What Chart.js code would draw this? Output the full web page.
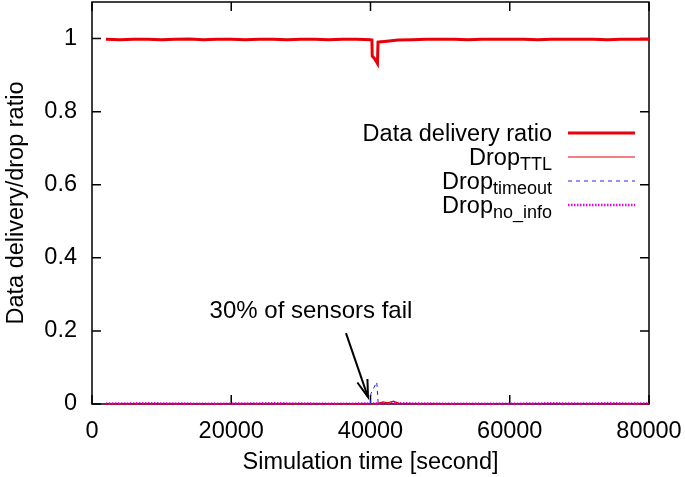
<!DOCTYPE html>
<html>
<head>
<meta charset="utf-8">
<script src="https://cdn.jsdelivr.net/npm/chart.js@4"></script>
<style>
  html, body { margin: 0; padding: 0; background: #fff; }
  #wrap { width: 685px; height: 477px; }
</style>
</head>
<body>
<div id="wrap"><canvas id="myChart" width="685" height="477"></canvas></div>
<script>
// Data
const deliveryTime = [2000, 4000, 6000, 8000, 10000, 12000, 14000, 16000, 18000, 20000,
  22000, 24000, 26000, 28000, 30000, 32000, 34000, 36000, 38000, 40000, 40200, 40250,
  40600, 41000, 41080, 41500, 42000, 43000, 44000, 46000, 48000, 50000, 52000, 54000,
  56000, 58000, 60000, 62000, 64000, 66000, 68000, 70000, 72000, 74000, 76000, 78000, 80000]
const deliveryRatio = [0.998, 0.997, 0.998, 0.998, 0.997, 0.998, 0.999, 0.997, 0.998, 0.998,
  0.997, 0.998, 0.998, 0.997, 0.998, 0.998, 0.997, 0.998, 0.998, 0.997, 0.996, 0.952,
  0.945, 0.932, 0.990, 0.991, 0.992, 0.994, 0.996, 0.997, 0.998, 0.998, 0.998, 0.997,
  0.998, 0.998, 0.998, 0.998, 0.997, 0.998, 0.998, 0.998, 0.998, 0.997, 0.998, 0.998, 0.998]

const ttlTime = [2000, 20000, 40000, 41000, 41800, 42500, 43300, 44200, 50000, 66000, 80000]
const ttlRatio = [0, 0, 0, 0.001, 0.006, 0.003, 0.008, 0.001, 0, 0.001, 0]

const timeoutTime = [2000, 10000, 20000, 30000, 38000, 40000, 40050, 40500, 40900, 41100,
  42000, 50000, 60000, 70000, 80000]
const timeoutRatio = [0.001, 0.001, 0, 0.001, 0.001, 0.002, 0.028, 0.045, 0.06, 0.003,
  0.001, 0.001, 0, 0.001, 0.001]

const noInfoTime = [2000, 8000, 14000, 20000, 26000, 32000, 38000, 44000, 50000, 56000,
  62000, 66000, 70000, 74000, 80000]
const noInfoRatio = [0.001, 0.002, 0.001, 0.001, 0.002, 0.001, 0.001, 0.002, 0.001,
  0.001, 0.001, 0.002, 0.001, 0.002, 0.001]

const xTicks = [0, 20000, 40000, 60000, 80000]
const yTicks = [0, 0.2, 0.4, 0.6, 0.8, 1]

// legend entries: main text, subscript
const legendItems = [
  ['Data delivery ratio', ''],
  ['Drop', 'TTL'],
  ['Drop', 'timeout'],
  ['Drop', 'no_info']
]

// annotation (data coords)
const noteText = '30% of sensors fail'
const notePos = [31450, 0.254]
const arrowFrom = [36480, 0.194]
const arrowTo = [39640, 0.019]

const FONT = 'Liberation Sans, Arial, Helvetica, sans-serif'
const FS = 23.5

function pts(xs, ys) {
  return xs.map((x, i) => ({ x: x, y: ys[i] }))
}

const styles = [
  { color: '#e8000b', width: 3, dash: [] },
  { color: '#e8000b', width: 1.2, dash: [] },
  { color: '#2222ee', width: 1, dash: [4, 4] },
  { color: '#ee00ee', width: 2.5, dash: [1.5, 1.5] }
]

// frame, inward tick marks, axis titles, legend and note
const decor = {
  id: 'decor',
  beforeDatasetsDraw(chart) {
    const c = chart.ctx
    const a = chart.chartArea
    const xs = chart.scales.x, ys = chart.scales.y
    c.save()
    c.strokeStyle = '#000'
    c.lineWidth = 1.5
    c.strokeRect(a.left, a.top, a.right - a.left, a.bottom - a.top)
    c.beginPath()
    xTicks.forEach(v => {
      const px = xs.getPixelForValue(v)
      c.moveTo(px, a.bottom); c.lineTo(px, a.bottom - 9)
      c.moveTo(px, a.top); c.lineTo(px, a.top + 9)
    })
    yTicks.forEach(v => {
      const py = ys.getPixelForValue(v)
      c.moveTo(a.left, py); c.lineTo(a.left + 9, py)
      c.moveTo(a.right, py); c.lineTo(a.right - 9, py)
    })
    c.stroke()
    c.restore()
  },
  afterDraw(chart) {
    const c = chart.ctx
    const a = chart.chartArea
    const xs = chart.scales.x, ys = chart.scales.y
    c.save()
    c.fillStyle = '#000'
    c.font = FS + 'px ' + FONT
    c.textAlign = 'center'
    c.textBaseline = 'middle'
    c.fillText('Simulation time [second]', (a.left + a.right) / 2, 463)
    c.save()
    c.translate(17, (a.top + a.bottom) / 2)
    c.rotate(-Math.PI / 2)
    c.fillText('Data delivery/drop ratio', 0, 0)
    c.restore()

    // legend
    const rowY = [133, 157, 181, 205]
    const textRight = 552
    legendItems.forEach((it, i) => {
      const y = rowY[i]
      c.textBaseline = 'alphabetic'
      c.textAlign = 'right'
      let right = textRight
      if (it[1]) {
        c.font = '18px ' + FONT
        c.fillText(it[1], right, y + 13)
        right -= c.measureText(it[1]).width
      }
      c.font = FS + 'px ' + FONT
      c.fillText(it[0], right, y + 8)
      const s = styles[i]
      c.strokeStyle = s.color
      c.lineWidth = s.width
      c.setLineDash(s.dash)
      c.beginPath()
      c.moveTo(568, y); c.lineTo(635, y)
      c.stroke()
      c.setLineDash([])
    })

    // note with arrow
    c.font = '24px ' + FONT
    c.textAlign = 'center'
    c.textBaseline = 'middle'
    c.fillText(noteText, xs.getPixelForValue(notePos[0]), ys.getPixelForValue(notePos[1]))
    const x1 = xs.getPixelForValue(arrowFrom[0]), y1 = ys.getPixelForValue(arrowFrom[1])
    const x2 = xs.getPixelForValue(arrowTo[0]), y2 = ys.getPixelForValue(arrowTo[1])
    c.strokeStyle = '#000'
    c.lineWidth = 2
    c.beginPath()
    c.moveTo(x1, y1); c.lineTo(x2, y2)
    c.stroke()
    const ang = Math.atan2(y2 - y1, x2 - x1)
    const len = 18, spread = 0.3
    c.beginPath()
    c.moveTo(x2 - len * Math.cos(ang - spread), y2 - len * Math.sin(ang - spread))
    c.lineTo(x2, y2)
    c.lineTo(x2 - len * Math.cos(ang + spread), y2 - len * Math.sin(ang + spread))
    c.stroke()
    c.restore()
  }
}

const ctx = document.getElementById('myChart')
const seriesX = [deliveryTime, ttlTime, timeoutTime, noInfoTime]
const seriesY = [deliveryRatio, ttlRatio, timeoutRatio, noInfoRatio]
const names = ['Data delivery ratio', 'Drop TTL', 'Drop timeout', 'Drop no_info']

// eslint-disable-next-line no-unused-vars
const myChart = new Chart(ctx, {
  type: 'line',
  data: {
    datasets: names.map((n, i) => ({
      label: n,
      data: pts(seriesX[i], seriesY[i]),
      borderColor: styles[i].color,
      borderWidth: styles[i].width,
      borderDash: styles[i].dash,
      pointRadius: 0,
      tension: 0,
      fill: false,
      clip: 3,
      order: i
    }))
  },
  options: {
    responsive: false,
    animation: false,
    devicePixelRatio: 1,
    layout: { padding: { left: 0, right: 36, top: 2, bottom: 0 } },
    plugins: {
      legend: { display: false },
      tooltip: { enabled: false }
    },
    scales: {
      x: {
        type: 'linear',
        min: 0,
        max: 80000,
        afterBuildTicks: s => { s.ticks = xTicks.map(v => ({ value: v })) },
        afterFit: s => { s.height = 73; s.paddingLeft = 0; s.paddingRight = 0 },
        grid: { display: false, drawTicks: false },
        border: { display: false },
        ticks: {
          color: '#000',
          padding: 13,
          maxRotation: 0,
          font: { family: FONT, size: FS },
          callback: v => String(v)
        }
      },
      y: {
        min: 0,
        max: 1.1,
        afterBuildTicks: s => { s.ticks = yTicks.map(v => ({ value: v })) },
        afterFit: s => { s.width = 92; s.paddingTop = 0; s.paddingBottom = 0 },
        grid: { display: false, drawTicks: false },
        border: { display: false },
        ticks: {
          color: '#000',
          padding: 15,
          font: { family: FONT, size: FS },
          callback: v => String(+v.toFixed(1))
        }
      }
    }
  },
  plugins: [decor]
})
</script>
</body>
</html>
